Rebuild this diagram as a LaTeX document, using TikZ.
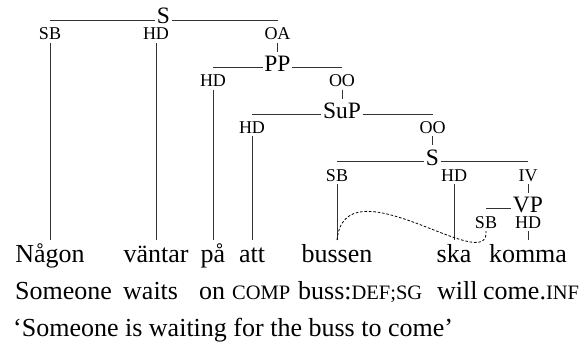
\documentclass[tikz,border=0pt]{standalone}
\usepackage{fontspec}
\setmainfont{Liberation Serif}
\newcommand\glsc[1]{{\fontsize{20.5}{24}\selectfont #1}}
\tikzset{
  cat/.style={font=\fontsize{23.5}{26}\selectfont, inner xsep=1.5pt, inner ysep=0pt, anchor=base},
  lab/.style={font=\fontsize{18}{20}\selectfont, inner sep=0pt, anchor=base},
  word/.style={font=\fontsize{26}{30}\selectfont, inner sep=0pt, anchor=base},
  gloss/.style={word, anchor=base west},
  edge/.style={line width=1pt, black!80},
  trace/.style={line width=0.8pt, dash pattern=on 2.6pt off 1.8pt}
}
\begin{document}
\begin{tikzpicture}[x=1pt,y=-1pt]
\useasboundingbox (0,0) rectangle (587,345);
% categories
\node[cat] (S0) at (163.5,24) {S};
\node[cat] (PP) at (277.5,72) {PP};
\node[cat] (SuP) at (342,119) {SuP};
\node[cat] (S1) at (432.5,165) {S};
\node[cat] (VP) at (528,212) {VP};
\coordinate (S0m) at ([yshift=3pt]S0.base);
\coordinate (PPm) at ([yshift=4pt]PP.base);
\coordinate (SuPm) at ([yshift=4pt]SuP.base);
\coordinate (S1m) at ([yshift=3.5pt]S1.base);
\coordinate (VPm) at ([yshift=3.5pt]VP.base);
% function labels
\node[lab] (sbA) at (50,40) {SB};
\node[lab] (hdA) at (156,40) {HD};
\node[lab] (oaA) at (277.5,40) {OA};
\node[lab] (hdB) at (213,87) {HD};
\node[lab] (ooB) at (342,87) {OO};
\node[lab] (hdC) at (252,133) {HD};
\node[lab] (ooC) at (432.5,133) {OO};
\node[lab] (sbD) at (337,181) {SB};
\node[lab] (hdD) at (454,181) {HD};
\node[lab] (ivD) at (528,181) {IV};
\node[lab] (sbE) at (486,228) {SB};
\node[lab] (hdE) at (528,228) {HD};
% words
\node[word] (w1) at (50,262) {Någon};
\node[word] (w2) at (156,262) {väntar};
\node[word] (w3) at (213,262) {på};
\node[word] (w4) at (252,262) {att};
\node[word] (w5) at (337,262) {bussen};
\node[word] (w6) at (454,262) {ska};
\node[word] (w7) at (528,262) {komma};
% glosses
\node[gloss] (g1) at (15,299) {Someone};
\node[gloss] (g2) at (123,299) {waits};
\node[gloss] (g3) at (199,299) {on};
\node[gloss] (g4) at (232,299) {\glsc{COMP}};
\node[gloss] (g5) at (298,299) {buss:\glsc{DEF;SG}};
\node[gloss] (g6) at (437,299) {will};
\node[gloss] (g7) at (483,299) {come.\glsc{INF}};
\node[gloss] (tr) at (13,336) {‘Someone is waiting for the buss to come’};
% horizontal bars
\draw[edge] (sbA |- S0m) -- (S0m -| S0.west);
\draw[edge] (S0m -| S0.east) -- (oaA |- S0m);
\draw[edge] (hdB |- PPm) -- (PPm -| PP.west);
\draw[edge] (PPm -| PP.east) -- (ooB |- PPm);
\draw[edge] (hdC |- SuPm) -- (SuPm -| SuP.west);
\draw[edge] (SuPm -| SuP.east) -- (ooC |- SuPm);
\draw[edge] (sbD |- S1m) -- (S1m -| S1.west);
\draw[edge] (S1m -| S1.east) -- (ivD |- S1m);
\draw[edge] (sbE |- VPm) -- (VPm -| VP.west);
% label to category
\draw[edge] ([yshift=-3pt]oaA.base) -- ([yshift=20pt]PP.base);
\draw[edge] ([yshift=-3pt]ooB.base) -- ([yshift=20pt]SuP.base);
\draw[edge] ([yshift=-3pt]ooC.base) -- ([yshift=20pt]S1.base);
\draw[edge] ([yshift=-3pt]ivD.base) -- ([yshift=19pt]VP.base);
% label to word
\draw[edge] ([yshift=-3pt]sbA.base) -- ([yshift=22pt]w1.base);
\draw[edge] ([yshift=-3pt]hdA.base) -- ([yshift=22pt]w2.base);
\draw[edge] ([yshift=-3pt]hdB.base) -- ([yshift=22pt]w3.base);
\draw[edge] ([yshift=-3pt]hdC.base) -- ([yshift=22pt]w4.base);
\draw[edge] ([yshift=-3pt]sbD.base) -- ([yshift=22pt]w5.base);
\draw[edge] ([yshift=-3pt]hdD.base) -- ([yshift=22pt]w6.base);
\draw[edge] ([yshift=-3pt]hdE.base) -- ([yshift=22pt]w7.base);
% trace
\coordinate (tA) at ([yshift=22pt]w5.base);
\coordinate (tB) at ([yshift=-3pt]sbE.base);
\draw[trace] (tA) .. controls +(8,-80) and +(4,47) .. (tB);
\end{tikzpicture}
\end{document}
